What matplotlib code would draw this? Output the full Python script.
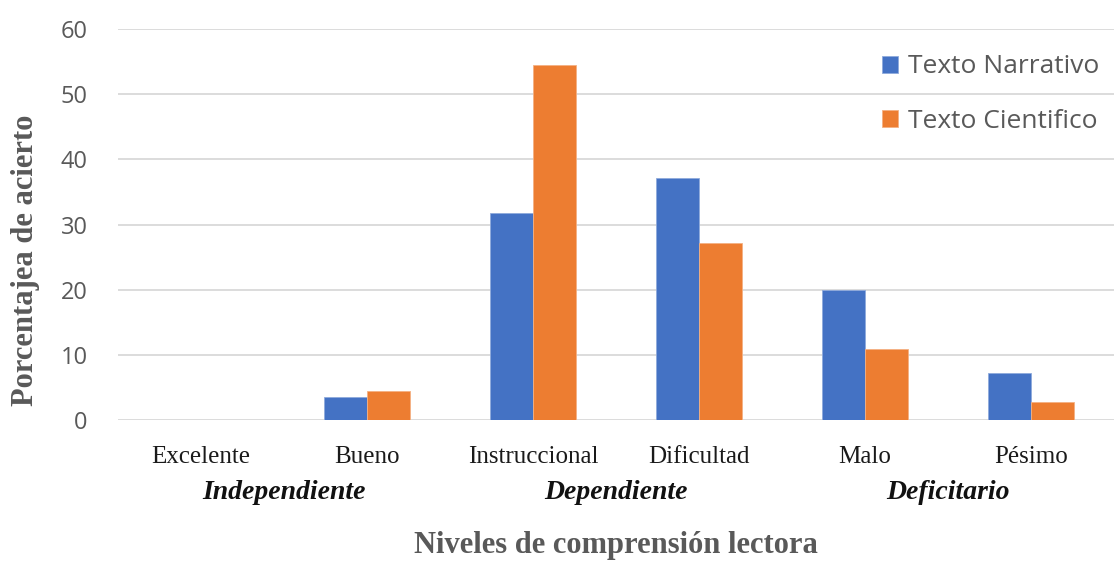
import matplotlib
matplotlib.use("Agg")
import matplotlib.pyplot as plt
import numpy as np

categories = ["Excelente", "Bueno", "Instruccional", "Dificultad", "Malo", "Pésimo"]
groups = ["Independiente", "Dependiente", "Deficitario"]
narrativo = [0, 3.5, 31.8, 37.2, 20.0, 7.2]
cientifico = [0, 4.5, 54.4, 27.1, 10.9, 2.8]
series_names = ["Texto Narrativo", "Texto Cientifico"]
yticks = [0, 10, 20, 30, 40, 50, 60]

blue = "#4472C4"
orange = "#ED7D31"
gray = "#595959"

fig = plt.figure(figsize=(11.16, 5.61), dpi=100)
ax = fig.add_axes([118/1116, 141/561, (1114-118)/1116, (420-29)/561])

x = np.arange(len(categories))
w = 0.26
ax.bar(x - w/2, narrativo, w, color=blue, edgecolor="#8FAADC", linewidth=0.6, label=series_names[0], zorder=3)
ax.bar(x + w/2, cientifico, w, color=orange, edgecolor="#F4B183", linewidth=0.6, label=series_names[1], zorder=3)

ax.set_xlim(-0.5, len(categories) - 0.5)
ax.set_ylim(0, 60)
ax.set_yticks(yticks)
ax.set_yticklabels([str(t) for t in yticks], fontsize=17, color=gray, family="Open Sans")
ax.yaxis.grid(True, color="#D9D9D9", linewidth=1.3, zorder=0)
ax.set_axisbelow(True)
for s in ax.spines.values():
    s.set_visible(False)
ax.tick_params(axis="y", length=0, pad=22)
ax.set_xticks(x)
ax.set_xticklabels(categories, fontsize=18, family="Liberation Serif", color="#1a1a1a")
ax.tick_params(axis="x", length=0, pad=19)

for i, g in enumerate(groups):
    ax.text(2*i + 0.5, -0.185, g, transform=ax.get_xaxis_transform(), ha="center", va="center",
            fontsize=20, family="Liberation Serif", style="italic", weight="bold", color="#111111")

fig.text(616/1116, 1 - 545/561, "Niveles de comprensión lectora", ha="center", va="center",
         fontsize=22, family="Liberation Serif", weight="bold", color=gray)
fig.text(26/1116, 1 - 260/561, "Porcentajea de acierto", ha="center", va="center", rotation=90,
         fontsize=22, family="Liberation Serif", weight="bold", color=gray)

leg = ax.legend(loc="upper left", bbox_to_anchor=(864/1116, 1 - 36/561), bbox_transform=fig.transFigure,
                frameon=False, labelspacing=1.1, handlelength=0.6, handleheight=0.6,
                handletextpad=0.35, borderaxespad=0.3, prop={"family": "Open Sans", "size": 19})
for t in leg.get_texts():
    t.set_color(gray)

fig.savefig("out.png", dpi=100)
